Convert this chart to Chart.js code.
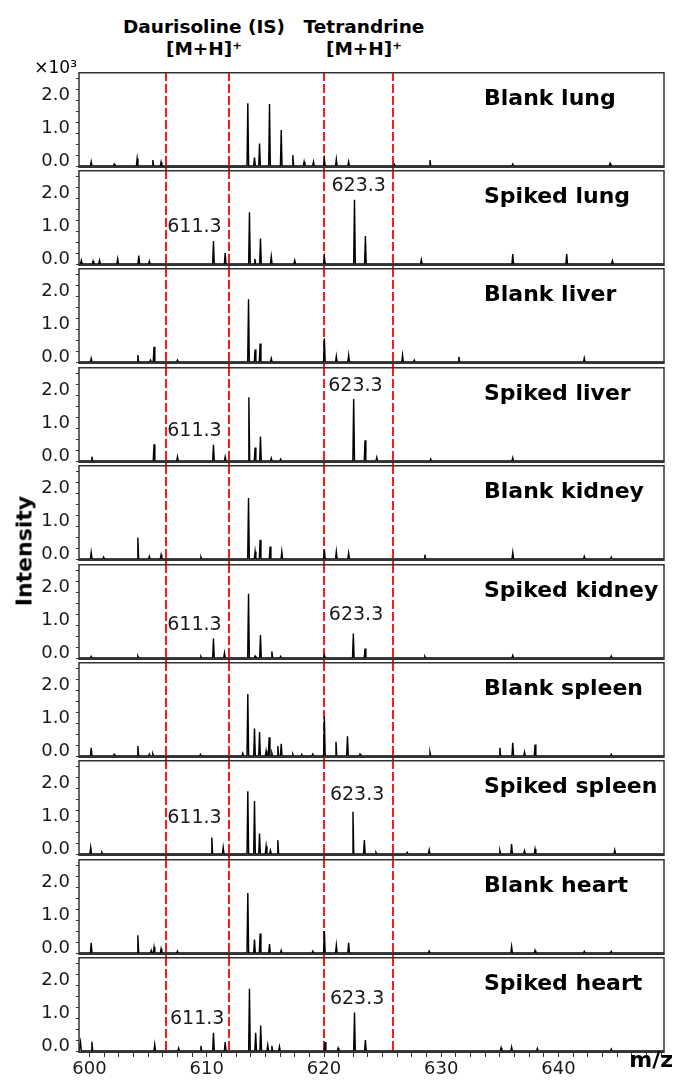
<!DOCTYPE html>
<html>
<head>
<meta charset="utf-8">
<script src="https://cdn.jsdelivr.net/npm/chart.js@4.4.1/dist/chart.umd.min.js"></script>
<style>
  body { margin: 0; background: #fff; }
  #page { position: relative; width: 679px; height: 1084px; overflow: hidden; font-family: 'DejaVu Sans', sans-serif; color: #000; }
  #page canvas { position: absolute; left: 0; z-index: 1; }
  .lbl { position: absolute; white-space: nowrap; z-index: 2; }
  .head { font-weight: bold; font-size: 18.5px; line-height: 22px; text-align: center; width: 220px; top: 16px; }
</style>
</head>
<body>
<div id="page">
  <div class="lbl head" style="left: 94px;">Daurisoline (IS)<br>[M+H]⁺</div>
  <div class="lbl head" style="left: 254px;">Tetrandrine<br>[M+H]⁺</div>
  <div class="lbl" style="left: 0; width: 77px; top: 57px; text-align: right; font-size: 17px; line-height: 20px;">×10³</div>
  <div class="lbl" style="left: 24px; top: 551px; font-weight: bold; font-size: 22px; transform: translate(-50%, -50%) rotate(-90deg);">Intensity</div>
  <div class="lbl" style="right: 6px; top: 1047px; font-weight: bold; font-size: 22px; line-height: 26px;">m/z</div>
</div>
<script>
// m/z axis and tick labels
const xMin = 599.1;
const xMax = 649.0;
const xLabelValues = [600, 610, 620, 630, 640];
const yLabelValues = [0, 1, 2];

// red dashed windows around the two [M+H]+ ions
const markerMz = [606.5, 611.9, 620.0, 625.9];

const panelTitles = [
  'Blank lung', 'Spiked lung', 'Blank liver', 'Spiked liver', 'Blank kidney',
  'Spiked kidney', 'Blank spleen', 'Spiked spleen', 'Blank heart', 'Spiked heart'
];

// peaks: [m/z, intensity x10^3]
const blankLung = [[600.14, 0.13], [602.1, 0.06], [604.06, 0.23], [605.4, 0.18], [606.1, 0.12],
  [613.5, 1.90], [614.07, 0.26], [614.5, 0.68], [615.35, 1.88], [616.35, 1.09], [617.34, 0.33],
  [618.3, 0.13], [619.1, 0.13], [620.03, 0.20], [621.05, 0.21], [622.1, 0.13], [626.0, 0.05],
  [629.04, 0.18], [636.1, 0.06], [644.4, 0.08]];
const spikedLung = [[599.3, 0.11], [600.3, 0.09], [600.85, 0.11], [602.4, 0.16], [604.2, 0.26],
  [605.1, 0.09], [610.57, 0.70], [611.57, 0.33], [613.64, 1.57], [614.1, 0.16], [614.58, 0.77],
  [615.5, 0.23], [617.5, 0.11], [620.03, 0.21], [622.6, 1.95], [623.53, 0.85], [628.3, 0.13],
  [636.1, 0.30], [640.7, 0.30], [644.6, 0.10]];
const blankLiver = [[600.14, 0.11], [604.12, 0.21], [605.2, 0.06], [605.5, 0.46], [607.5, 0.06],
  [613.56, 1.90], [614.12, 0.38], [614.55, 0.56], [615.5, 0.11], [620.03, 0.72], [621.05, 0.18],
  [622.1, 0.21], [626.7, 0.21], [627.7, 0.06], [631.5, 0.16], [642.2, 0.12]];
const spikedLiver = [[600.2, 0.13], [605.5, 0.51], [607.5, 0.13], [610.57, 0.49], [611.57, 0.13],
  [613.59, 1.93], [614.12, 0.41], [614.58, 0.74], [615.5, 0.09], [616.3, 0.06], [622.53, 1.88],
  [623.5, 0.63], [624.5, 0.11], [629.1, 0.06], [636.1, 0.10]];
const blankKidney = [[600.14, 0.20], [601.2, 0.06], [604.12, 0.65], [605.1, 0.08], [606.1, 0.13],
  [609.5, 0.06], [613.56, 1.85], [614.12, 0.23], [614.55, 0.58], [615.4, 0.38], [616.4, 0.23],
  [620.03, 0.28], [621.05, 0.23], [622.1, 0.18], [628.6, 0.13], [636.1, 0.20], [642.2, 0.08],
  [644.5, 0.06]];
const spikedKidney = [[600.14, 0.05], [604.12, 0.06], [609.5, 0.05], [610.57, 0.59], [611.51, 0.16],
  [613.56, 1.95], [614.12, 0.06], [614.58, 0.70], [615.55, 0.20], [616.3, 0.05], [620.03, 0.09],
  [622.5, 0.74], [623.5, 0.29], [628.6, 0.05], [636.1, 0.08], [644.5, 0.06]];
const blankSpleen = [[600.14, 0.25], [602.1, 0.05], [604.12, 0.30], [605.1, 0.06], [605.4, 0.07],
  [609.46, 0.05], [613.07, 0.08], [613.5, 1.88], [614.07, 0.83], [614.5, 0.73], [615.06, 0.16],
  [615.32, 0.57], [615.55, 0.09], [616.06, 0.30], [616.35, 0.37], [617.34, 0.06], [618.1, 0.05],
  [619.04, 0.06], [620.03, 1.20], [621.02, 0.43], [622.0, 0.60], [623.07, 0.06], [629.04, 0.11],
  [635.0, 0.25], [636.1, 0.40], [637.1, 0.12], [638.0, 0.35], [644.5, 0.05]];
const spikedSpleen = [[600.1, 0.20], [601.05, 0.05], [610.43, 0.50], [611.4, 0.20], [613.5, 1.90],
  [614.07, 1.61], [614.5, 0.62], [615.06, 0.24], [615.43, 0.11], [616.06, 0.42], [622.47, 1.28],
  [623.44, 0.42], [624.43, 0.05], [627.1, 0.05], [628.97, 0.13], [635.0, 0.10], [636.0, 0.30],
  [637.1, 0.10], [638.0, 0.15], [644.8, 0.12]];
const blankHeart = [[600.14, 0.31], [604.12, 0.54], [605.26, 0.08], [605.5, 0.18], [606.1, 0.13],
  [607.5, 0.06], [613.5, 1.82], [614.07, 0.41], [614.55, 0.59], [615.35, 0.27], [616.35, 0.08],
  [619.04, 0.06], [620.03, 0.67], [621.05, 0.24], [622.1, 0.31], [628.97, 0.06], [636.0, 0.20],
  [638.0, 0.08], [642.2, 0.05], [644.5, 0.05]];
const spikedHeart = [[599.23, 0.27], [600.2, 0.28], [605.56, 0.20], [607.6, 0.09], [609.5, 0.16],
  [610.57, 0.55], [611.57, 0.27], [613.64, 1.89], [614.17, 0.55], [614.6, 0.77], [615.2, 0.18],
  [615.55, 0.16], [616.2, 0.14], [620.09, 0.27], [621.2, 0.09], [622.6, 1.17], [623.53, 0.33],
  [635.1, 0.10], [636.0, 0.12], [638.2, 0.08], [644.5, 0.06]];

const spectra = [blankLung, spikedLung, blankLiver, spikedLiver, blankKidney,
  spikedKidney, blankSpleen, spikedSpleen, blankHeart, spikedHeart];

// peak annotations: [m/z, intensity, text]
const spikedNotes = {
  1: [[608.95, 1.12, '611.3'], [622.96, 2.35, '623.3']],
  3: [[608.95, 0.92, '611.3'], [622.68, 2.28, '623.3']],
  5: [[608.95, 1.00, '611.3'], [622.73, 1.31, '623.3']],
  7: [[608.95, 1.10, '611.3'], [622.82, 1.80, '623.3']],
  9: [[609.18, 0.97, '611.3'], [622.82, 1.58, '623.3']]
};

Chart.defaults.font.family = "'DejaVu Sans', sans-serif";

const peakHalfWidth = 0.07;
function toTrace(peaks) {
  const pts = [{ x: xMin, y: 0 }];
  peaks.slice().sort((a, b) => a[0] - b[0]).forEach(([mz, h]) => {
    pts.push({ x: mz - peakHalfWidth, y: 0 }, { x: mz, y: h }, { x: mz + peakHalfWidth, y: 0 });
  });
  pts.push({ x: xMax, y: 0 });
  return pts;
}

const xTicks = [];
for (let v = 600; v <= xMax; v += 1.25) xTicks.push(v);
const yTicks = [];
for (let k = 0; k <= 8; k++) yTicks.push(k / 3);

const panelDecor = {
  id: 'panelDecor',
  beforeDatasetsDraw(chart, args, opts) {
    const { ctx, chartArea, scales } = chart;
    const bottom = opts.last ? chartArea.bottom : chart.height;
    ctx.save();
    ctx.strokeStyle = '#ff1a1a';
    ctx.lineWidth = 2;
    ctx.setLineDash([9, 3]);
    markerMz.forEach(mz => {
      const x = Math.round(scales.x.getPixelForValue(mz));
      ctx.beginPath();
      ctx.moveTo(x, chartArea.top);
      ctx.lineTo(x, bottom);
      ctx.stroke();
    });
    ctx.restore();
  },
  afterDatasetsDraw(chart, args, opts) {
    const { ctx, chartArea, scales } = chart;
    ctx.save();
    ctx.strokeStyle = '#333';
    ctx.lineWidth = 1.5;
    ctx.strokeRect(chartArea.left, chartArea.top + 0.75, chartArea.right - chartArea.left, chartArea.bottom - chartArea.top - 1.5);

    ctx.fillStyle = '#000';
    ctx.font = "bold 22px 'DejaVu Sans'";
    ctx.textAlign = 'left';
    ctx.textBaseline = 'alphabetic';
    ctx.fillText(opts.title, 484, chartArea.top + 33);

    ctx.fillStyle = '#1a1a1a';
    ctx.font = "19px 'DejaVu Sans'";
    ctx.textAlign = 'center';
    ctx.textBaseline = 'middle';
    (opts.notes || []).forEach(([mz, h, text]) => {
      ctx.fillText(text, scales.x.getPixelForValue(mz), scales.y.getPixelForValue(h));
    });
    ctx.restore();
  }
};

const page = document.getElementById('page');
const tops = spectra.map((s, i) => Math.round(71.6 + 98.4 * i));

spectra.forEach((peaks, i) => {
  const last = i === spectra.length - 1;
  const height = last ? 1084 - tops[i] : tops[i + 1] - tops[i];
  const canvas = document.createElement('canvas');
  canvas.width = 679;
  canvas.height = height;
  canvas.style.top = tops[i] + 'px';
  page.appendChild(canvas);

  new Chart(canvas, {
    type: 'line',
    data: {
      datasets: [{
        data: toTrace(peaks),
        borderColor: '#000',
        borderWidth: 1.4,
        pointRadius: 0,
        tension: 0,
        fill: 'start',
        backgroundColor: 'rgba(0,0,0,0.22)'
      }]
    },
    options: {
      responsive: false,
      animation: false,
      devicePixelRatio: 1,
      events: [],
      layout: { padding: { left: 0, right: 15, top: 0, bottom: last ? 0 : height - 96 } },
      plugins: {
        legend: { display: false },
        tooltip: { enabled: false },
        panelDecor: { title: panelTitles[i], notes: spikedNotes[i], last: last }
      },
      scales: {
        x: {
          type: 'linear',
          min: xMin,
          max: xMax,
          display: last,
          afterBuildTicks: s => { s.ticks = xTicks.map(v => ({ value: v })); },
          afterFit: s => { s.height = last ? 31 : 0; s.paddingLeft = 0; s.paddingRight = 0; },
          grid: { drawOnChartArea: false, tickLength: 4, color: '#333' },
          border: { display: false },
          ticks: {
            autoSkip: false, maxRotation: 0, padding: 2, color: '#1a1a1a', font: { size: 18 },
            callback: v => xLabelValues.includes(v) ? String(v) : ''
          }
        },
        y: {
          min: -0.06,
          max: 2.85,
          afterBuildTicks: s => { s.ticks = yTicks.map(v => ({ value: v })); },
          afterFit: s => { s.width = 79; s.paddingTop = 0; s.paddingBottom = 0; },
          grid: { drawOnChartArea: false, tickLength: 3, color: '#333' },
          border: { display: false },
          ticks: {
            autoSkip: false, padding: 6, labelOffset: -5, color: '#1a1a1a', font: { size: 18 },
            callback: v => yLabelValues.includes(v) ? v.toFixed(1) : ''
          }
        }
      }
    },
    plugins: [panelDecor]
  });
});
</script>
</body>
</html>
